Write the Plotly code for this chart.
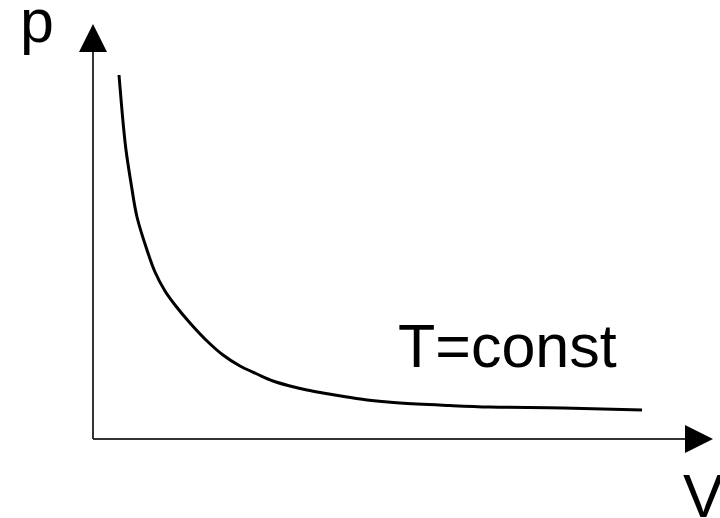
import plotly.graph_objects as go

# Isotherm (arbitrary units)
volume = [0.52, 0.61, 0.66, 0.76, 0.88, 1.08, 1.24, 1.44, 1.64, 1.94, 2.28, 2.60, 2.94,
          3.28, 3.60, 3.94, 4.28, 4.60, 5.08, 5.48, 6.14, 7.14, 7.94, 9.40, 10.98]
pressure = [7.28, 6.24, 5.78, 5.12, 4.44, 3.78, 3.34, 2.96, 2.68, 2.32, 1.96, 1.68, 1.46,
            1.30, 1.16, 1.06, 0.98, 0.92, 0.84, 0.78, 0.72, 0.67, 0.64, 0.62, 0.58]

axis_v_end = 12.4
axis_p_end = 8.3

fig = go.Figure()
# axes
fig.add_trace(go.Scatter(x=[0, 0], y=[0, axis_p_end - 0.4], mode="lines",
                         line=dict(color="#333333", width=2), hoverinfo="skip"))
fig.add_trace(go.Scatter(x=[0, axis_v_end - 0.4], y=[0, 0], mode="lines",
                         line=dict(color="#333333", width=2), hoverinfo="skip"))
fig.add_trace(go.Scatter(x=[0], y=[axis_p_end], mode="markers",
                         marker=dict(symbol="arrow-up", size=28, color="black", line=dict(width=0)),
                         hoverinfo="skip", cliponaxis=False))
fig.add_trace(go.Scatter(x=[axis_v_end], y=[0], mode="markers",
                         marker=dict(symbol="arrow-right", size=28, color="black", line=dict(width=0)),
                         hoverinfo="skip", cliponaxis=False))
# isotherm
fig.add_trace(go.Scatter(x=volume, y=pressure, mode="lines",
                         line=dict(color="black", width=3, shape="spline", smoothing=1.0),
                         hoverinfo="skip"))

font = dict(family="Liberation Sans, Arial, sans-serif", size=61, color="black")
fig.add_annotation(x=8.29, y=1.86, text="T=const", showarrow=False, font=font,
                   xanchor="center", yanchor="middle")
fig.add_annotation(x=-1.12, y=8.36, text="p", showarrow=False, font=font,
                   xanchor="center", yanchor="middle")
fig.add_annotation(x=12.2, y=-1.14, text="V", showarrow=False, font=font,
                   xanchor="center", yanchor="middle")

fig.update_layout(
    width=720, height=518,
    margin=dict(l=0, r=0, t=0, b=0),
    paper_bgcolor="white", plot_bgcolor="white",
    showlegend=False,
    xaxis=dict(range=[-1.86, 12.54], visible=False, fixedrange=True),
    yaxis=dict(range=[-1.58, 8.78], visible=False, fixedrange=True),
)
fig.write_html("out.html", config={"displayModeBar": False},
               post_script="document.body.style.margin='0';document.body.style.overflow='hidden';")
